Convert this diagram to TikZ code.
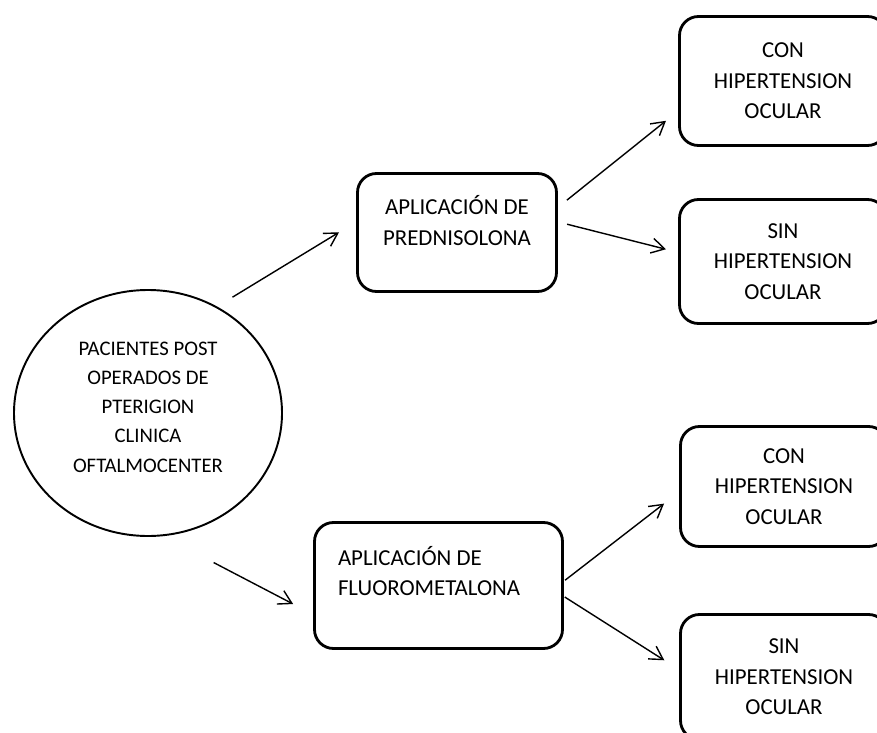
\documentclass[tikz,border=0pt]{standalone}
\usepackage{fontspec}
\setmainfont{Carlito}
\usetikzlibrary{arrows.meta, positioning, shapes.geometric}

\newcommand{\bajo}[1]{\rule[-#1]{0pt}{#1}}

\begin{document}
\begin{tikzpicture} [node distance = 2cm , on grid,
    paciente/.style = {draw, ellipse, line width=1.1pt, minimum width=5.36cm, minimum height=4.92cm, align=center, font=\fontsize{11.8}{16.6}\selectfont},
    caja/.style = {draw, rectangle, rounded corners=0.38cm, line width=1.6pt, align=center, font=\fontsize{13}{17.4}\selectfont},
    medicamento/.style = {caja, minimum width=3.98cm, minimum height=2.36cm},
    resultado/.style = {caja, minimum width=4.14cm},
    flecha/.style = {-{Straight Barb[length=2.6mm, width=3mm]}, line width=0.8pt}]
    \useasboundingbox (0,0) rectangle (17.54,-14.66);

    \node (pac) [paciente] at (2.96,-8.26) {PACIENTES POST\\OPERADOS DE\\PTERIGION\\CLINICA\\OFTALMOCENTER\bajo{2.4mm}};
    \node (pred) [medicamento, above right = 3.61cm and 6.18cm of pac] {APLICACIÓN DE\\PREDNISOLONA\bajo{4.8mm}};
    \node (fluo) [caja, below right = 3.45cm and 5.81cm of pac, align=flush left, text width=4.02cm, inner xsep=0.47cm, minimum height=2.52cm] {APLICACIÓN DE\\FLUOROMETALONA\bajo{5.8mm}};

    \node (con1) [resultado, above right = 3.03cm and 6.52cm of pred, minimum height=2.58cm] {CON\\HIPERTENSION\\OCULAR};
    \node (sin1) [resultado, below right = 0.58cm and 6.52cm of pred, minimum height=2.48cm] {SIN\\HIPERTENSION\\OCULAR};
    \node (con2) [resultado, above right = 1.98cm and 6.91cm of fluo, minimum height=2.4cm] {CON\\HIPERTENSION\\OCULAR};
    \node (sin2) [resultado, below right = 1.83cm and 6.91cm of fluo, minimum height=2.5cm] {SIN\\HIPERTENSION\\OCULAR};

    \path [flecha] (pac.57) edge [shorten <=3.6mm, shorten >=4mm] (pred.174);
    \path [flecha] (pac.277) edge [shorten <=11.4mm, shorten >=4.5mm] (fluo.193);
    \path [flecha] (pred.14) edge [shorten <=2.3mm, shorten >=3.1mm] (con1.196);
    \path [flecha] (pred.6) edge [shorten <=1.9mm, shorten >=2.5mm] (sin1.175);
    \path [flecha] (fluo.2) edge [shorten <=0.3mm, shorten >=3.8mm] (con2.183);
    \path [flecha] (fluo.355) edge [shorten <=0.2mm, shorten >=3.5mm] (sin2.176);

\end{tikzpicture}
\end{document}
